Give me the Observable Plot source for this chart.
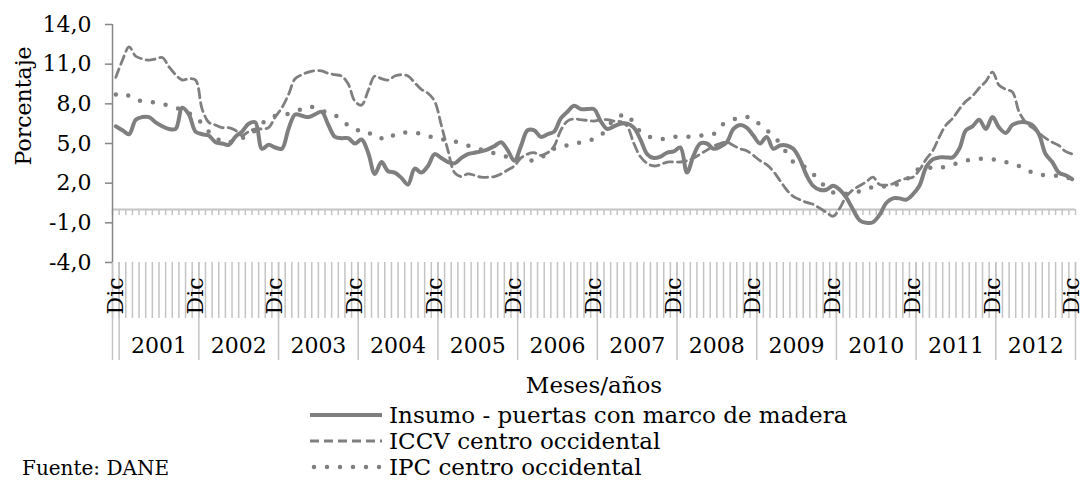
<!DOCTYPE html>
<html><head><meta charset="utf-8">
<script src="https://cdn.jsdelivr.net/npm/d3@7"></script>
<script src="https://cdn.jsdelivr.net/npm/@observablehq/plot@0.6"></script>
<style>
html,body{margin:0;padding:0;background:#fff;overflow:hidden;}
#wrap{position:relative;width:1083px;height:481px;font-family:"DejaVu Serif",serif;color:#000;background:#fff;}
#legend{position:absolute;left:310px;top:402px;}
.row{display:flex;align-items:center;height:26px;}
.row span{font-size:23px;line-height:26px;margin-left:5px;white-space:nowrap;}
#source{position:absolute;left:22px;top:458px;font-size:20px;line-height:20px;white-space:nowrap;}
</style></head><body><div id="wrap"><div id="chart"></div><div id="legend"></div><div id="source">Fuente: DANE</div></div>
<script>
// Months: Dic 2000 ... Dic 2012 (145 months)
const monthLabel = "Dic";
const years = [2001, 2002, 2003, 2004, 2005, 2006, 2007, 2008, 2009, 2010, 2011, 2012];
const yTicks = [14, 11, 8, 5, 2, -1, -4];
const seriesNames = ["Insumo - puertas con marco de madera", "ICCV centro occidental", "IPC centro occidental"];
const axisTitleY = "Porcentaje";
const axisTitleX = "Meses/años";

const insumo = [
  6.3, 6.0, 5.7, 6.8, 7.0, 7.0, 6.6, 6.3, 6.1, 6.1,
  7.7, 7.2, 5.9, 5.7, 5.6, 5.1, 5.0, 4.9, 5.5, 5.9,
  6.5, 6.6, 4.6, 4.9, 4.7, 4.6, 6.1, 7.2, 7.1, 7.0,
  7.2, 7.4, 6.4, 5.5, 5.4, 5.4, 5.0, 5.3, 4.3, 2.7,
  3.6, 2.9, 2.8, 2.4, 1.9, 3.1, 2.8, 3.3, 4.2, 3.9,
  3.6, 3.5, 3.9, 4.2, 4.3, 4.4, 4.55, 4.8, 5.1, 4.5,
  3.7, 4.8, 6.0, 6.0, 5.5, 5.7, 5.9, 6.9, 7.4, 7.85,
  7.6, 7.6, 7.6, 6.7, 6.1, 6.3, 6.5, 6.5, 6.2, 5.3,
  4.2, 3.9, 4.0, 4.3, 4.4, 4.7, 2.8, 4.1, 5.0, 5.0,
  4.6, 4.75, 5.1, 6.1, 6.4, 6.2, 5.6, 5.0, 5.5, 4.6,
  4.85, 4.85, 4.6, 3.8, 2.6, 1.8, 1.5, 1.5, 1.8, 1.5,
  0.9, 0.0, -0.8, -1.0, -0.95, -0.4, 0.5, 0.85, 0.85, 0.75,
  1.15, 1.8, 3.2, 3.8, 3.95, 3.95, 3.95, 4.6, 6.0, 6.3,
  6.8, 6.1, 7.0, 6.2, 5.8, 6.4, 6.6, 6.6, 6.4, 5.7,
  4.2, 3.6, 2.8, 2.6, 2.3
];
const iccv = [
  10.0, 11.3, 12.3, 11.6, 11.4, 11.3, 11.4, 11.5, 10.8, 10.2,
  9.8, 9.9, 9.8, 7.6, 6.6, 6.4, 6.2, 6.2, 6.0, 5.6,
  5.9, 6.1, 6.1, 6.2, 7.0, 7.7, 8.7, 9.9, 10.2, 10.4,
  10.5, 10.5, 10.3, 10.2, 10.1, 9.5, 8.2, 7.9, 9.0, 10.1,
  9.9, 9.8, 10.1, 10.2, 10.1, 9.6, 9.1, 8.8, 8.2, 6.4,
  4.5, 2.8, 2.5, 2.7, 2.6, 2.45, 2.45, 2.5, 2.7, 3.0,
  3.3, 3.9, 4.2, 4.3, 4.1, 4.3, 4.8, 6.0, 6.7, 6.85,
  6.8, 6.75, 6.7, 6.8, 6.8, 6.7, 6.65, 6.3, 5.0, 4.0,
  3.5, 3.3, 3.4, 3.6, 3.6, 3.6, 3.7, 3.9, 4.2, 4.5,
  4.8, 5.0, 5.1, 4.85, 4.6, 4.45, 4.1, 3.7, 3.4, 2.9,
  2.2, 1.5, 1.0, 0.75, 0.55, 0.4, 0.1, -0.2, -0.5, 0.1,
  1.0, 1.5, 1.8, 2.1, 2.45, 1.9, 1.85, 1.95, 2.2, 2.35,
  2.45, 3.0, 3.8, 4.45, 5.5, 6.4, 6.9, 7.6, 8.2, 8.6,
  9.2, 9.7, 10.4, 9.4, 9.1, 8.9, 7.4, 6.6, 6.2, 5.8,
  5.4, 5.1, 4.85, 4.4, 4.2
];
const ipc = [
  8.7, 8.8, 8.6, 8.3, 8.2, 8.15, 8.1, 8.0, 7.85, 7.7,
  7.55, 7.3, 7.0, 6.5, 5.9, 5.5, 5.1, 5.1, 5.2, 5.4,
  5.6, 6.0, 6.5, 6.9, 7.1, 7.2, 7.25, 7.45, 7.6, 7.8,
  7.7, 7.5, 7.3, 7.15, 6.7, 6.4, 6.2, 5.8, 5.75, 5.75,
  5.4, 5.3, 5.7, 5.8, 5.85, 5.8, 5.75, 5.6, 5.4, 5.35,
  5.2, 5.15, 5.0, 4.85, 4.7, 4.55, 4.4, 4.25, 4.1, 4.0,
  3.9, 3.85, 3.8, 3.7, 3.9, 4.3, 4.6, 4.8, 4.85, 4.9,
  5.1, 5.2, 5.35, 5.6, 6.2, 6.8, 7.1, 7.2, 6.5, 5.9,
  5.6, 5.4, 5.35, 5.35, 5.5, 5.5, 5.5, 5.55, 5.6, 5.65,
  5.7, 6.3, 6.6, 6.8, 7.0, 7.0, 6.9, 6.4, 6.0, 5.6,
  5.0, 4.3, 3.6, 3.3, 3.2, 2.7, 2.1, 1.7, 1.3, 1.2,
  1.2, 1.25, 1.4, 1.6, 1.7, 1.75, 1.75, 1.8, 2.0, 2.25,
  2.8, 3.1, 3.2, 3.15, 3.1, 3.3, 3.4, 3.55, 3.7, 3.8,
  3.85, 3.85, 3.8, 3.75, 3.6, 3.45, 3.3, 3.1, 2.8, 2.65,
  2.6, 2.55, 2.55, 2.45, 2.3
];

const nMonths = insumo.length;
const data = insumo.map((v, i) => ({i, insumo: v, iccv: iccv[i], ipc: ipc[i]}));
const boundaries = d3.range(0, nMonths + 1);
const decIdx = d3.range(0, nMonths, 12);
const separators = [0, ...years.map((y, k) => 1 + 12 * k), nMonths];

const W = 1083, H = 400, mL = 112, mR = 8, mT = 24, mB = 138;
const pxPerUnit = (H - mT - mB) / (yTicks[0] - yTicks[yTicks.length - 1]);
const lineGray = "#7f7f7f", gridGray = "#c4c4c4", axisGray = "#868686";
const fmt = d => d.toFixed(1).replace(".", ",");

const chart = Plot.plot({
  width: W, height: H,
  marginLeft: mL, marginRight: mR, marginTop: mT, marginBottom: mB,
  style: {fontFamily: '"DejaVu Serif", serif', fontSize: "22px", color: "#000", background: "transparent", overflow: "visible"},
  x: {domain: [0, nMonths], axis: null},
  y: {domain: [yTicks[yTicks.length - 1], yTicks[0]], axis: null},
  marks: [
    Plot.ruleY([0], {stroke: gridGray, strokeWidth: 2}),
    Plot.axisX(boundaries, {anchor: "bottom", tickSize: 6, dy: -(0 - yTicks[yTicks.length - 1]) * pxPerUnit, tickFormat: () => "", stroke: gridGray, strokeWidth: 1.5, label: null}),
    Plot.axisX(boundaries, {anchor: "bottom", tickSize: 56, tickFormat: () => "", stroke: gridGray, strokeWidth: 1.5, label: null}),
    Plot.axisX(separators, {anchor: "bottom", tickSize: 98, tickFormat: () => "", stroke: gridGray, strokeWidth: 1.5, label: null}),
    Plot.ruleX([0], {y1: yTicks[yTicks.length - 1], y2: yTicks[0], stroke: axisGray, strokeWidth: 1.5}),
    Plot.axisY(yTicks, {anchor: "left", tickSize: 7, tickPadding: 14, tickFormat: fmt, stroke: axisGray, strokeWidth: 1.5, fontSize: 22, label: null}),
    Plot.text([axisTitleY], {frameAnchor: "left", text: d => d, rotate: -90, dx: -89, dy: 22, fontSize: 22}),
    Plot.text(decIdx, {x: d => d + 0.5, frameAnchor: "bottom", text: () => monthLabel, rotate: -90, textAnchor: "end", lineAnchor: "middle", dy: 15, fontSize: 22}),
    Plot.text(years, {x: (y, k) => 1 + 12 * k + 6, frameAnchor: "bottom", text: d => String(d), lineAnchor: "middle", dy: 83, fontSize: 22}),
    Plot.text([axisTitleX], {frameAnchor: "bottom", text: d => d, lineAnchor: "middle", dy: 123, fontSize: 23}),
    Plot.line(data, {x: d => d.i + 0.5, y: "insumo", stroke: lineGray, strokeWidth: 4, curve: "catmull-rom", strokeLinejoin: "round"}),
    Plot.line(data, {x: d => d.i + 0.5, y: "iccv", stroke: lineGray, strokeWidth: 2.8, strokeDasharray: "9 5", curve: "catmull-rom"}),
    Plot.line(data, {x: d => d.i + 0.5, y: "ipc", stroke: lineGray, strokeWidth: 4.5, strokeDasharray: "0 13", strokeLinecap: "round", curve: "catmull-rom"})
  ]
});
document.getElementById("chart").appendChild(chart);

// Legend
const styles = [
  {w: 4, dash: null, cap: "butt"},
  {w: 2.8, dash: "9 5", cap: "butt"},
  {w: 4.5, dash: "0 13", cap: "round"}
];
const legend = document.getElementById("legend");
seriesNames.forEach((name, k) => {
  const s = styles[k];
  const row = document.createElement("div");
  row.className = "row";
  row.innerHTML = `<svg width="74" height="12"><line x1="${s.cap === "round" ? 4 : 0}" x2="72" y1="6" y2="6" stroke="${lineGray}" stroke-width="${s.w}" ${s.dash ? `stroke-dasharray="${s.dash}"` : ""} stroke-linecap="${s.cap}"/></svg><span>${name}</span>`;
  legend.appendChild(row);
});
</script></body></html>
